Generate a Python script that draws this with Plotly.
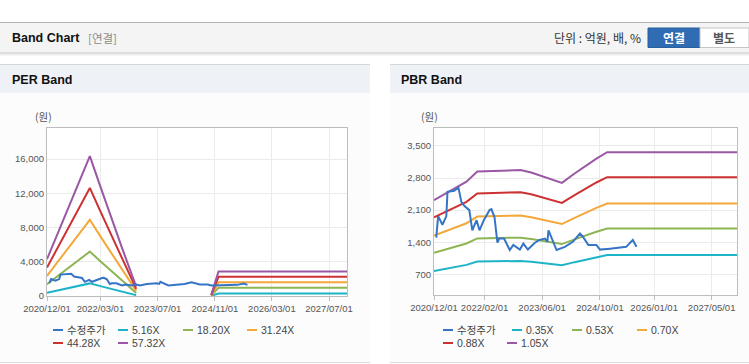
import plotly.graph_objects as go

W, H = 749, 364

# ---------------- data ----------------
# PER band (EPS-based bands, gap where EPS was negative)
per_dates = ["2020-12-01", "2021-03-01", "2021-06-01", "2021-09-01", "2021-12-01",
             "2022-03-01", "2022-06-01", "2022-09-01", "2022-12-31", "2023-10-01",
             "2024-09-30", "2024-12-01", "2027-12-01"]
per_516 = [387, 658, 929, 1197, 1471, 1151, 826, 506, 98, None, 10, 300, 300]
per_1820 = [1365, 2321, 3276, 4222, 5187, 4059, 2912, 1784, 346, None, 36, 950, 950]
per_3124 = [2343, 3983, 5623, 7248, 8903, 6967, 4998, 3062, 594, None, 62, 1610, 1610]
per_4428 = [3321, 5646, 7970, 10273, 12620, 9874, 7085, 4339, 841, None, 89, 2240, 2240]
per_5732 = [4299, 7308, 10318, 13298, 16336, 12782, 9171, 5617, 1089, None, 115, 2860, 2860]

# PBR band (BPS-based bands)
pbr_dates = ["2020-12-01", "2021-03-01", "2021-06-01", "2021-09-01", "2021-12-01",
             "2022-03-01", "2022-06-01", "2022-09-01", "2022-12-01", "2023-03-01",
             "2023-06-01", "2023-09-01", "2023-11-15", "2024-03-01", "2024-06-01",
             "2024-09-01", "2024-12-01", "2027-12-01"]
pbr_035 = [772, 816, 861, 907, 980, 984, 985, 991, 991, 973, 945, 917, 898, 966, 1022, 1075, 1121, 1121]
pbr_053 = [1170, 1235, 1304, 1373, 1484, 1489, 1492, 1500, 1500, 1473, 1431, 1389, 1360, 1463, 1548, 1627, 1698, 1698]
pbr_070 = [1545, 1631, 1722, 1813, 1960, 1967, 1971, 1981, 1981, 1946, 1890, 1834, 1796, 1932, 2044, 2149, 2242, 2242]
pbr_088 = [1942, 2050, 2165, 2279, 2464, 2473, 2477, 2490, 2490, 2446, 2376, 2306, 2258, 2429, 2570, 2702, 2819, 2819]
pbr_105 = [2317, 2447, 2583, 2720, 2940, 2951, 2956, 2972, 2972, 2919, 2835, 2751, 2694, 2898, 3066, 3224, 3363, 3363]

# adjusted share price (수정주가)
price_dates = ["2020-12-20", "2021-01-05", "2021-02-10", "2021-03-15", "2021-03-25",
               "2021-05-20", "2021-06-25", "2021-07-20", "2021-08-15", "2021-09-25",
               "2021-10-20", "2021-11-25", "2021-12-20", "2022-01-25", "2022-03-15",
               "2022-03-30", "2022-04-25", "2022-05-20", "2022-06-05", "2022-07-15",
               "2022-09-01", "2022-10-01", "2022-11-25", "2022-12-25", "2023-02-01",
               "2023-04-01", "2023-05-10", "2023-06-25", "2023-07-15", "2023-07-25",
               "2023-10-01", "2023-12-10", "2024-02-15", "2024-04-15", "2024-05-10",
               "2024-06-25", "2024-09-01", "2024-10-01", "2024-12-25", "2025-05-10",
               "2025-07-05", "2025-08-05"]
price = [1500, 1970, 1780, 1970, 2500, 2520, 2590, 2280, 2190, 2100,
         1660, 1880, 1660, 1880, 2100, 2120, 1950, 1390, 1480, 1480,
         1230, 1340, 1240, 1370, 1240, 1390, 1450, 1480, 1410, 1660,
         1230, 1300, 1410, 1590, 1520, 1340, 1340, 1240, 1260, 1300,
         1450, 1300]

per_names = ["수정주가", "5.16X", "18.20X", "31.24X", "44.28X", "57.32X"]
pbr_names = ["수정주가", "0.35X", "0.53X", "0.70X", "0.88X", "1.05X"]
colors = ["#3674c6", "#1db4c8", "#8db553", "#f3a83a", "#cd3232", "#9a58a4"]

per_ticks = ["2020-12-01", "2022-03-01", "2023-07-01", "2024-11-01", "2026-03-01", "2027-07-01"]
pbr_ticks = ["2020-12-01", "2022-02-01", "2023-06-01", "2024-10-01", "2026-01-01", "2027-05-01"]
per_yticks = [0, 4000, 8000, 12000, 16000]
pbr_yticks = [700, 1400, 2100, 2800, 3500]

# ---------------- figure ----------------
fig = go.Figure()
per_series = [per_516, per_1820, per_3124, per_4428, per_5732]
pbr_series = [pbr_035, pbr_053, pbr_070, pbr_088, pbr_105]

for i, s in enumerate(per_series):
    fig.add_trace(go.Scatter(x=per_dates, y=s, mode="lines", name=per_names[i + 1],
                             line=dict(color=colors[i + 1], width=2), connectgaps=False,
                             xaxis="x", yaxis="y", showlegend=False))
fig.add_trace(go.Scatter(x=price_dates, y=price, mode="lines", name=per_names[0],
                         line=dict(color=colors[0], width=2), xaxis="x", yaxis="y",
                         showlegend=False))
for i, s in enumerate(pbr_series):
    fig.add_trace(go.Scatter(x=pbr_dates, y=s, mode="lines", name=pbr_names[i + 1],
                             line=dict(color=colors[i + 1], width=2),
                             xaxis="x2", yaxis="y2", showlegend=False))
fig.add_trace(go.Scatter(x=price_dates, y=price, mode="lines", name=pbr_names[0],
                         line=dict(color=colors[0], width=2), xaxis="x2", yaxis="y2",
                         showlegend=False))


def px(x):
    return x / W


def py(y):
    return 1 - y / H


axis_common = dict(showline=True, linecolor="#bdbdbd", linewidth=1, mirror=True,
                   showgrid=True, gridcolor="#ebebeb", gridwidth=1, zeroline=False,
                   automargin=False, tickangle=0,
                   tickfont=dict(family="Liberation Sans, Arial, sans-serif", size=9.5, color="#555"))

fig.update_layout(
    width=W, height=H, margin=dict(l=0, r=0, t=0, b=0, autoexpand=False),
    paper_bgcolor="white", plot_bgcolor="white", showlegend=False,
    xaxis=dict(domain=[px(47), px(347)], anchor="y", type="date",
               range=["2020-12-01", "2027-12-01"], tickvals=per_ticks,
               tickformat="%Y/%m/%d", ticks="outside", ticklen=4, tickcolor="#bdbdbd",
               **axis_common),
    yaxis=dict(domain=[py(296), py(128)], anchor="x", range=[0, 19620],
               tickvals=per_yticks, tickformat=",d", ticks="", **axis_common),
    xaxis2=dict(domain=[px(434), px(737)], anchor="y2", type="date",
                range=["2020-12-01", "2027-12-01"], tickvals=pbr_ticks,
                tickformat="%Y/%m/%d", ticks="outside", ticklen=4, tickcolor="#bdbdbd",
                **axis_common),
    yaxis2=dict(domain=[py(295), py(128)], anchor="x2", range=[250, 3890],
                tickvals=pbr_yticks, tickformat=",d", ticks="", **axis_common),
)

shapes = []


def rect(x0, y0, x1, y1, fill, line=None, lw=0):
    shapes.append(dict(type="rect", xref="paper", yref="paper", x0=px(x0), x1=px(x1),
                       y0=py(y1), y1=py(y0), fillcolor=fill, layer="below",
                       line=dict(width=lw, color=line or fill)))


def hline(x0, x1, y, color, w=1, layer="below"):
    shapes.append(dict(type="line", xref="paper", yref="paper", x0=px(x0), x1=px(x1),
                       y0=py(y), y1=py(y), line=dict(color=color, width=w), layer=layer))


# header bar
rect(0, 22, 749, 53, "#f4f4f4")
hline(0, 749, 22.5, "#b5b5b5")
hline(0, 749, 53, "#c4c4c4")
hline(0, 749, 54, "#dcdcdc")
hline(0, 749, 55, "#eeeeee")

# panels
for (a, b) in [(0, 370), (390, 749)]:
    rect(a, 64, b, 363, "#fcfcfc")
    rect(a, 65, b, 93, "#eef2f7")
    hline(a, b, 64.5, "#d6d6d6")
    hline(a, b, 362.5, "#dadada")

# plot area backgrounds
rect(47, 128, 347, 296, "white")
rect(434, 128, 737, 295, "white")

# buttons
rect(648, 28, 700, 47.5, "#2f6cb3", "#285e9e", 1)
rect(700, 28, 749, 47.5, "white", "#c5c5c5", 1)

ann = []
KFONT = "Noto Sans CJK KR, Liberation Sans, sans-serif"


def text(x, y, s, size=12, color="#222", anchor="left", family=KFONT):
    ann.append(dict(xref="paper", yref="paper", x=px(x), y=py(y), text=s, showarrow=False,
                    xanchor=anchor, yanchor="middle",
                    font=dict(size=size, color=color, family=family)))


text(10, 38, "<b>Band Chart</b>", 12.5, "#111", family="Liberation Sans, Arial, sans-serif")
text(86, 38, "[연결]", 11.5, "#8a8a8a")
text(643, 38, "단위 : 억원, 배, %", 12, "#333", anchor="right")
text(674, 38, "<b>연결</b>", 12, "white", anchor="center")
text(724, 38, "<b>별도</b>", 12, "#555", anchor="center")

text(10, 80, "<b>PER Band</b>", 12.5, "#111", family="Liberation Sans, Arial, sans-serif")
text(399, 80, "<b>PBR Band</b>", 12.5, "#111", family="Liberation Sans, Arial, sans-serif")

text(43, 117, "(원)", 10.5, "#555", anchor="center")
text(429, 117, "(원)", 10.5, "#555", anchor="center")

# legends
per_leg = [(53, 330), (118, 330), (183, 330), (247, 330), (53, 343), (118, 343)]
pbr_leg = [(443, 330), (512, 330), (572, 330), (637, 330), (443, 343), (507, 343)]
for names, pos in [(per_names, per_leg), (pbr_names, pbr_leg)]:
    for i, (name, (lx, ly)) in enumerate(zip(names, pos)):
        hline(lx, lx + 10, ly, colors[i], 2, layer="above")
        text(lx + 12, ly, name, 10.5, "#444",
             family="Liberation Sans, Noto Sans CJK KR, sans-serif")

fig.update_layout(shapes=shapes, annotations=ann)
fig.write_html("out.html", config={"displayModeBar": False},
               post_script="document.body.style.margin='0';")
